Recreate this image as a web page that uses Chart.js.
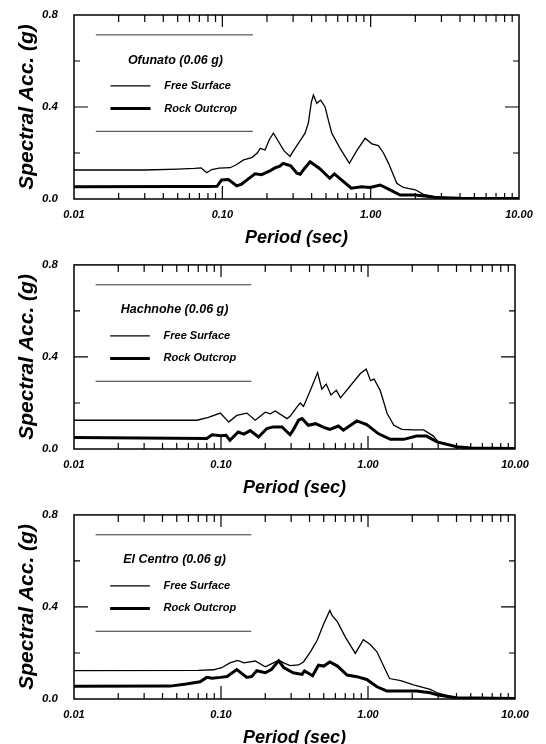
<!DOCTYPE html>
<html>
<head>
<meta charset="utf-8">
<script src="https://cdn.jsdelivr.net/npm/chart.js@4.4.1/dist/chart.umd.min.js"></script>
<style>
  body { margin: 0; background: #fff; width: 546px; height: 744px; overflow: hidden; }
  .panel { position: absolute; left: 0; width: 546px; height: 250px; }
</style>
</head>
<body>
<div class="panel" style="top:0"><canvas id="c1" width="546" height="250"></canvas></div>
<div class="panel" style="top:250px"><canvas id="c2" width="546" height="250"></canvas></div>
<div class="panel" style="top:500px"><canvas id="c3" width="546" height="250"></canvas></div>
<script>
var FONT = '"Liberation Sans", Arial, Helvetica, sans-serif';

var xTicks = [0.01, 0.1, 1, 10];
var yTicks = [0, 0.4, 0.8];
var seriesNames = ['Free Surface', 'Rock Outcrop'];
var panelTitles = ['Ofunato (0.06 g)', 'Hachnohe (0.06 g)', 'El Centro (0.06 g)'];

// Ofunato
var ofuFreeT  = [0.01, 0.03, 0.05, 0.065, 0.072, 0.0785, 0.085, 0.095, 0.113, 0.125, 0.139, 0.158, 0.172, 0.18, 0.194, 0.208, 0.221, 0.239, 0.26, 0.286, 0.309, 0.34, 0.361, 0.38, 0.398, 0.411, 0.433, 0.46, 0.493, 0.52, 0.547, 0.622, 0.68, 0.719, 0.806, 0.917, 1.02, 1.127, 1.22, 1.32, 1.5, 1.66, 2.0, 2.27, 2.79, 3.5, 5, 10];
var ofuFreeSa = [0.126, 0.126, 0.13, 0.133, 0.135, 0.114, 0.128, 0.134, 0.136, 0.15, 0.17, 0.18, 0.2, 0.22, 0.213, 0.26, 0.286, 0.25, 0.21, 0.185, 0.22, 0.26, 0.286, 0.33, 0.42, 0.452, 0.416, 0.43, 0.40, 0.34, 0.286, 0.22, 0.18, 0.155, 0.21, 0.264, 0.24, 0.232, 0.2, 0.155, 0.068, 0.05, 0.04, 0.02, 0.008, 0.004, 0.003, 0.003];
var ofuRockT  = [0.01, 0.05, 0.08, 0.092, 0.099, 0.11, 0.125, 0.135, 0.146, 0.166, 0.184, 0.209, 0.226, 0.244, 0.257, 0.278, 0.29, 0.318, 0.335, 0.36, 0.391, 0.452, 0.53, 0.57, 0.65, 0.74, 0.87, 0.99, 1.16, 1.35, 1.58, 2.0, 2.39, 2.8, 4, 10];
var ofuRockSa = [0.053, 0.054, 0.054, 0.055, 0.083, 0.085, 0.057, 0.065, 0.082, 0.11, 0.106, 0.122, 0.135, 0.143, 0.155, 0.148, 0.143, 0.112, 0.108, 0.135, 0.162, 0.133, 0.09, 0.109, 0.078, 0.047, 0.053, 0.05, 0.061, 0.04, 0.017, 0.017, 0.012, 0.006, 0.003, 0.002];

// Hachnohe
var hacFreeT  = [0.01, 0.0687, 0.082, 0.099, 0.113, 0.128, 0.15, 0.171, 0.2, 0.216, 0.234, 0.281, 0.295, 0.329, 0.346, 0.364, 0.405, 0.454, 0.485, 0.52, 0.56, 0.609, 0.65, 0.759, 0.887, 0.973, 1.04, 1.1, 1.21, 1.35, 1.5, 1.7, 2.04, 2.39, 2.79, 3.0, 4.0, 5, 10];
var hacFreeSa = [0.125, 0.125, 0.137, 0.156, 0.117, 0.146, 0.156, 0.125, 0.16, 0.153, 0.165, 0.132, 0.142, 0.183, 0.2, 0.185, 0.254, 0.332, 0.26, 0.282, 0.235, 0.255, 0.222, 0.275, 0.328, 0.347, 0.297, 0.304, 0.255, 0.154, 0.103, 0.085, 0.083, 0.083, 0.056, 0.031, 0.01, 0.004, 0.002];
var hacRockT  = [0.01, 0.08, 0.087, 0.099, 0.108, 0.115, 0.131, 0.143, 0.158, 0.18, 0.205, 0.227, 0.26, 0.295, 0.31, 0.337, 0.356, 0.393, 0.44, 0.5, 0.55, 0.63, 0.68, 0.84, 0.98, 1.18, 1.42, 1.75, 2.14, 2.5, 2.95, 4, 5, 10];
var hacRockSa = [0.05, 0.046, 0.062, 0.058, 0.06, 0.038, 0.074, 0.065, 0.08, 0.052, 0.089, 0.096, 0.096, 0.062, 0.083, 0.125, 0.132, 0.103, 0.11, 0.094, 0.085, 0.1, 0.082, 0.122, 0.106, 0.066, 0.042, 0.042, 0.056, 0.056, 0.031, 0.01, 0.004, 0.002];

// El Centro
var elcFreeT  = [0.01, 0.07, 0.089, 0.101, 0.115, 0.13, 0.143, 0.171, 0.2, 0.247, 0.267, 0.295, 0.337, 0.364, 0.405, 0.451, 0.5, 0.55, 0.57, 0.62, 0.7, 0.82, 0.93, 1.03, 1.15, 1.27, 1.4, 1.67, 2.04, 2.65, 3.0, 4, 10];
var elcFreeSa = [0.123, 0.124, 0.127, 0.136, 0.157, 0.168, 0.157, 0.165, 0.14, 0.168, 0.157, 0.145, 0.148, 0.161, 0.204, 0.255, 0.327, 0.385, 0.363, 0.335, 0.27, 0.198, 0.258, 0.238, 0.205, 0.147, 0.089, 0.08, 0.061, 0.042, 0.025, 0.005, 0.002];
var elcRockT  = [0.01, 0.045, 0.058, 0.072, 0.08, 0.087, 0.099, 0.11, 0.128, 0.15, 0.162, 0.175, 0.2, 0.22, 0.247, 0.267, 0.31, 0.356, 0.37, 0.42, 0.46, 0.5, 0.55, 0.62, 0.72, 0.84, 0.98, 1.15, 1.34, 2.14, 2.65, 3.0, 4, 10];
var elcRockSa = [0.055, 0.056, 0.065, 0.075, 0.094, 0.09, 0.094, 0.098, 0.128, 0.094, 0.098, 0.123, 0.114, 0.128, 0.166, 0.137, 0.114, 0.107, 0.122, 0.101, 0.147, 0.143, 0.161, 0.143, 0.104, 0.097, 0.085, 0.053, 0.035, 0.035, 0.027, 0.017, 0.005, 0.002];

function pts(t, sa) {
  return t.map(function (v, i) { return { x: v, y: sa[i] }; });
}

// box frame + inward ticks on all four sides
var frameTicks = {
  id: 'frameTicks',
  afterDatasetsDraw: function (chart) {
    var a = chart.chartArea, ctx = chart.ctx, xs = chart.scales.x, ys = chart.scales.y;
    ctx.save();
    ctx.strokeStyle = '#000';
    ctx.lineWidth = 1.5;
    ctx.strokeRect(a.left, a.top, a.right - a.left, a.bottom - a.top);
    ctx.lineWidth = 1.2;
    ctx.beginPath();
    for (var e = -2; e <= 0; e++) {
      for (var k = 1; k <= 9; k++) {
        if (e === -2 && k === 1) continue;
        var px = xs.getPixelForValue(k * Math.pow(10, e));
        var major = k === 1;
        ctx.moveTo(px, a.bottom); ctx.lineTo(px, a.bottom - (major ? 13 : 6));
        ctx.moveTo(px, a.top); ctx.lineTo(px, a.top + (major ? 12 : 7));
      }
    }
    [0.2, 0.4, 0.6].forEach(function (v) {
      var py = ys.getPixelForValue(v);
      var len = v === 0.4 ? 14 : 6;
      ctx.moveTo(a.left, py); ctx.lineTo(a.left + len, py);
      ctx.moveTo(a.right, py); ctx.lineTo(a.right - len, py);
    });
    ctx.stroke();
    ctx.restore();
  }
};

// the little legend block inside the plot
var boxLegend = {
  id: 'boxLegend',
  afterDraw: function (chart, args, opts) {
    var a = chart.chartArea, ctx = chart.ctx;
    var w = a.right - a.left, h = a.bottom - a.top;
    function X(f) { return a.left + f * w; }
    function Y(f) { return a.top + f * h; }
    ctx.save();
    ctx.strokeStyle = '#333';
    ctx.lineWidth = 1;
    ctx.beginPath();
    ctx.moveTo(X(0.049), Y(0.108)); ctx.lineTo(X(0.402), Y(0.108));
    ctx.moveTo(X(0.049), Y(0.632)); ctx.lineTo(X(0.402), Y(0.632));
    ctx.stroke();

    ctx.fillStyle = '#000';
    ctx.textBaseline = 'middle';
    ctx.textAlign = 'center';
    ctx.font = 'italic bold 12.5px ' + FONT;
    ctx.fillText(opts.title, X(0.228), Y(0.245));

    ctx.textAlign = 'left';
    ctx.font = 'italic bold 11px ' + FONT;
    var rows = [0.385, 0.508];
    chart.data.datasets.forEach(function (ds, i) {
      ctx.strokeStyle = '#000';
      ctx.lineWidth = ds.borderWidth;
      ctx.beginPath();
      ctx.moveTo(X(0.082), Y(rows[i])); ctx.lineTo(X(0.172), Y(rows[i]));
      ctx.stroke();
      ctx.fillText(ds.label, X(0.203), Y(rows[i]));
    });
    ctx.restore();
  }
};

function makeChart(id, title, free, rock, topPad, rightPad) {
  return new Chart(document.getElementById(id), {
    type: 'scatter',
    data: {
      datasets: [
        { label: seriesNames[0], data: free, showLine: true, borderColor: '#000', borderWidth: 1.3, pointRadius: 0, tension: 0 },
        { label: seriesNames[1], data: rock, showLine: true, borderColor: '#000', borderWidth: 3, pointRadius: 0, tension: 0 }
      ]
    },
    options: {
      responsive: false,
      animation: false,
      events: [],
      layout: { padding: { top: topPad, right: rightPad, left: 0, bottom: 0 } },
      plugins: {
        legend: { display: false },
        tooltip: { enabled: false },
        boxLegend: { title: title }
      },
      scales: {
        x: {
          type: 'logarithmic',
          min: 0.01,
          max: 10,
          grid: { display: false },
          border: { display: false },
          afterBuildTicks: function (s) { s.ticks = xTicks.map(function (v) { return { value: v }; }); },
          afterFit: function (s) { s.height = 51; },
          ticks: {
            autoSkip: false, maxRotation: 0, padding: 1, color: '#000',
            font: { family: FONT, size: 11, weight: 'bold', style: 'italic' },
            callback: function (v) { return Number(v).toFixed(2); }
          },
          title: {
            display: true, text: 'Period (sec)', color: '#000',
            font: { family: FONT, size: 18, weight: 'bold', style: 'italic' },
            padding: { top: 0, bottom: 1 }
          }
        },
        y: {
          min: 0,
          max: 0.8,
          grid: { display: false },
          border: { display: false },
          afterBuildTicks: function (s) { s.ticks = yTicks.map(function (v) { return { value: v }; }); },
          afterFit: function (s) { s.width = 74; },
          ticks: {
            padding: 8, color: '#000',
            font: { family: FONT, size: 11.5, weight: 'bold', style: 'italic' },
            callback: function (v) { return Number(v).toFixed(1); }
          },
          title: {
            display: true, text: 'Spectral Acc. (g)', color: '#000',
            font: { family: FONT, size: 21, weight: 'bold', style: 'italic' },
            padding: { top: 15, bottom: 0 }
          }
        }
      }
    },
    plugins: [frameTicks, boxLegend]
  });
}

makeChart('c1', panelTitles[0], pts(ofuFreeT, ofuFreeSa), pts(ofuRockT, ofuRockSa), 15, 27);
makeChart('c2', panelTitles[1], pts(hacFreeT, hacFreeSa), pts(hacRockT, hacRockSa), 13, 31);
makeChart('c3', panelTitles[2], pts(elcFreeT, elcFreeSa), pts(elcRockT, elcRockSa), 14, 31);
</script>
</body>
</html>
